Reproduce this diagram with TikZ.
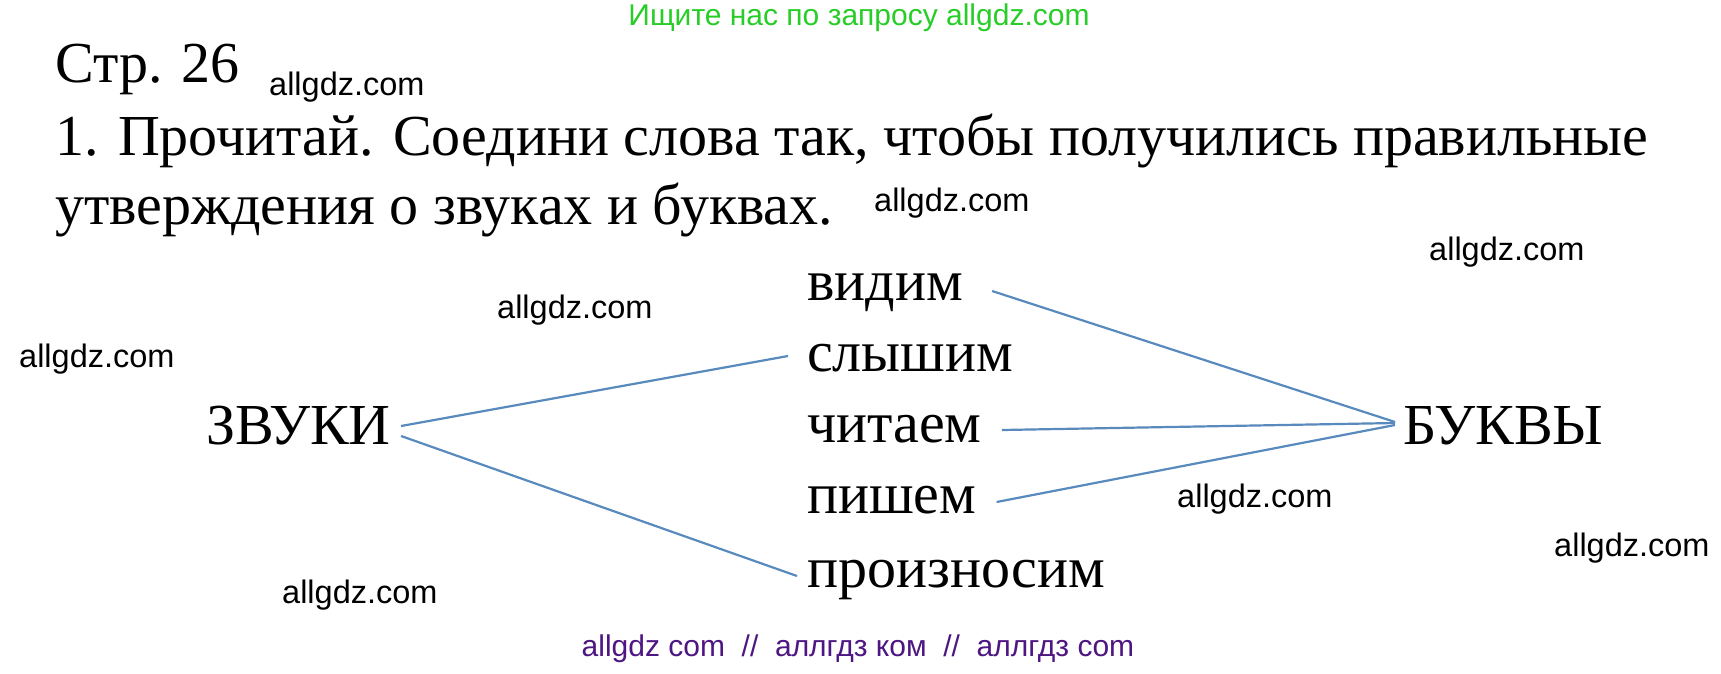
\documentclass[tikz,border=0pt]{standalone}
\usepackage{fontspec}
\setmainfont{Liberation Serif}
\newfontfamily\wmfont{Liberation Sans}
\definecolor{linkblue}{RGB}{88,138,190}
\definecolor{wmgreen}{RGB}{40,205,40}
\definecolor{wmpurple}{RGB}{78,22,130}
\begin{document}
\begin{tikzpicture}[x=1pt,y=-1pt,
  big/.style={font=\fontsize{58}{64}\selectfont, inner sep=0pt, anchor=base west},
  wmk/.style={font=\wmfont\fontsize{32.5}{36}\selectfont, inner sep=0pt, anchor=base west},
  wmline/.style={font=\wmfont\fontsize{30}{34}\selectfont, inner sep=0pt, anchor=base},
  link/.style={draw=linkblue, line width=2.2pt}]
\useasboundingbox[fill=white] (0,0) rectangle (1721,673);
% watermarks
\node[wmline, text=wmgreen] (wtop) at (859,25) {Ищите нас по запросу allgdz.com};
\node[wmline, text=wmpurple] (wbot) at (858,656) {allgdz com \ // \ аллгдз ком \ // \ аллгдз com};
\node[wmk] (w1) at (269,95) {allgdz.com};
\node[wmk] (w2) at (874,211) {allgdz.com};
\node[wmk] (w3) at (1429,260) {allgdz.com};
\node[wmk] (w4) at (497,318) {allgdz.com};
\node[wmk] (w5) at (19,367) {allgdz.com};
\node[wmk] (w6) at (1177,507) {allgdz.com};
\node[wmk] (w7) at (1554,556) {allgdz.com};
\node[wmk] (w8) at (282,603) {allgdz.com};
% heading
\node[big] (page) at (55,82) {Стр. 26};
\node[big] (task1) at (55,155) {1. Прочитай. Соедини слова так, чтобы получились правильные};
\node[big] (task2) at (55,224) {утверждения о звуках и буквах.};
% words
\node[big] (zvuki) at (206,444) {ЗВУКИ};
\node[big] (bukvy) at (1403,444) {БУКВЫ};
\node[big] (vidim) at (807,300) {видим};
\node[big] (slyshim) at (807,371) {слышим};
\node[big] (chitaem) at (807,442) {читаем};
\node[big] (pishem) at (807,513) {пишем};
\node[big] (proiz) at (807,587) {произносим};
% connectors
\draw[link] ([shift={(10,-18)}]zvuki.base east) -- ([shift={(-19,-15)}]slyshim.base west);
\draw[link] ([shift={(10,-8)}]zvuki.base east) -- ([shift={(-10,-11)}]proiz.base west);
\draw[link] ([shift={(29,-9)}]vidim.base east) -- ([shift={(-8,-22)}]bukvy.base west);
\draw[link] ([shift={(20,-12)}]chitaem.base east) -- ([shift={(-8,-21)}]bukvy.base west);
\draw[link] ([shift={(20,-11)}]pishem.base east) -- ([shift={(-8,-19)}]bukvy.base west);
\end{tikzpicture}
\end{document}
